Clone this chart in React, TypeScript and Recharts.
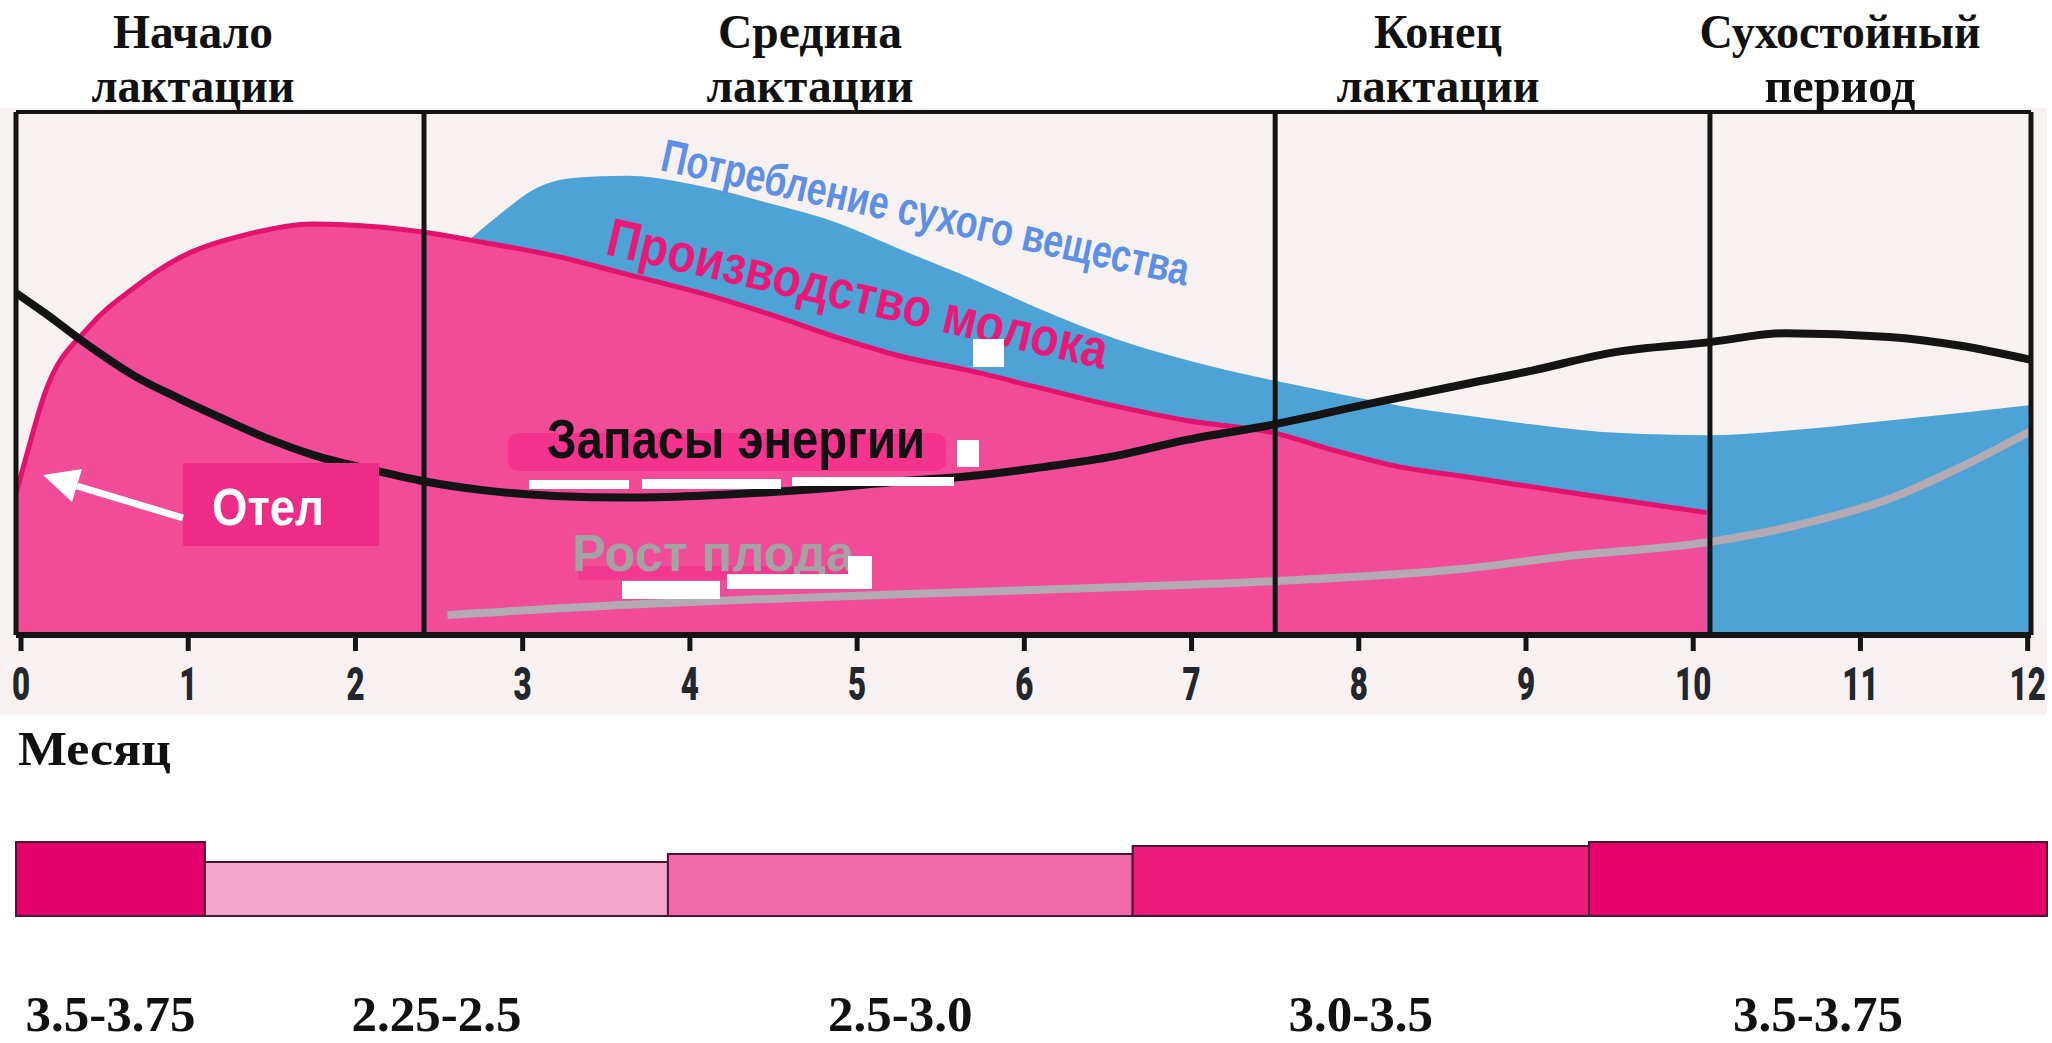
import React from 'react';
import { ComposedChart, Area, Line, XAxis, YAxis, ReferenceLine, ReferenceArea } from 'recharts';

// ---------- data ----------
const monthTicks = [0, 1, 2, 3, 4, 5, 6, 7, 8, 9, 10, 11, 12];
const phaseDividers = [2.41, 7.5, 10.1];
const phaseTitles = [
  ['Начало', 'лактации'],
  ['Средина', 'лактации'],
  ['Конец', 'лактации'],
  ['Сухостойный', 'период'],
];

// Производство молока
const milkMonths = [-0.03, 0.03, 0.14, 0.41, 0.68, 0.94, 1.34, 1.74, 2.14, 2.41, 2.76, 3.19, 3.62, 4.04, 4.47, 4.9, 5.26, 5.68, 6.11, 6.54, 6.97, 7.5, 7.82, 8.25, 8.61, 9.25, 10.08];
const milkValues = [27, 34, 46, 59, 66.5, 72, 76.5, 78.6, 78.0, 77.0, 75.1, 72.5, 69, 65.6, 61.4, 56.7, 53.3, 50.5, 47.1, 43.8, 41, 38.6, 35.6, 32.1, 30.4, 27.3, 23.4];

// Потребление сухого вещества
const dmiMonths = [2.66, 2.87, 3.08, 3.3, 3.62, 4.04, 4.47, 4.9, 5.26, 5.68, 6.11, 6.54, 6.97, 7.5, 7.82, 8.25, 8.61, 9.03, 9.57, 10.08, 10.53, 11.17, 12.02];
const dmiValues = [75, 80.6, 85.4, 87.4, 87.8, 86, 82.6, 78.6, 73.7, 68.2, 62.1, 56.7, 52.6, 48.6, 46.5, 43.8, 42.1, 40.3, 38.6, 38.2, 39, 41, 44];

// Запасы энергии
const energyMonths = [-0.03, 0.14, 0.41, 0.68, 0.94, 1.21, 1.48, 1.74, 2.15, 2.41, 2.76, 3.19, 3.62, 4.04, 4.47, 4.9, 5.26, 5.68, 6.11, 6.54, 6.97, 7.5, 8.03, 8.61, 9.03, 9.5, 10.1, 10.55, 11.17, 11.6, 12.02];
const energyValues = [65.4, 61.6, 55.2, 49.5, 45.3, 41.3, 37.5, 34.5, 31.2, 29.4, 27.7, 26.6, 26.3, 26.6, 27.3, 28.3, 29.4, 30.4, 32.1, 34.2, 37.3, 40.3, 44, 47.8, 50.5, 53.9, 56, 57.7, 57, 55.3, 52.6];

// Рост плода
const fetalMonths = [2.55, 3.62, 4.47, 5.26, 6.33, 7.5, 8.61, 9.25, 10.1, 10.74, 11.17, 11.6, 12.02];
const fetalValues = [3.8, 5.8, 6.9, 7.8, 8.9, 10.3, 12.6, 15.1, 17.8, 21.9, 26, 32.1, 39];

// Body condition band
const bandLabels = ['3.5-3.75', '2.25-2.5', '2.5-3.0', '3.0-3.5', '3.5-3.75'];
const bandHigh = [3.75, 2.5, 3.0, 3.5, 3.75];
const bandStart = [-0.03, 1.1, 3.87, 6.65, 9.38];
const bandEnd = [1.1, 3.87, 6.65, 9.38, 12.12];
const bandColors = ['#e4016b', '#f2a4cb', '#f06aab', '#eb1a7b', '#e7016a'];
const BAND_FLOOR = -0.9;

// ---------- table built from arrays ----------
type Row = { m: number; [k: string]: number | undefined };
function buildRows(): Row[] {
  const map = new Map<number, Row>();
  const add = (ms: number[], vs: number[], key: string) =>
    ms.forEach((m, i) => {
      const r = map.get(m) ?? { m };
      r[key] = vs[i];
      map.set(m, r);
    });
  add(milkMonths, milkValues, 'milk');
  add(dmiMonths, dmiValues, 'dmi');
  add(energyMonths, energyValues, 'energy');
  add(fetalMonths, fetalValues, 'fetal');
  return Array.from(map.values()).sort((a, b) => a.m - b.m);
}
const rows = buildRows();
const bandCenters = bandStart.map((s, i) => (s + bandEnd[i]) / 2);
const bandRows = bandLabels.map((label, i) => ({ center: bandCenters[i], high: bandHigh[i], label }));

const SERIF = '"Liberation Serif", "Times New Roman", serif';
const SANS = '"Liberation Sans", Arial, sans-serif';

function MonthTick(props: any) {
  const { x, y, payload } = props;
  return (
    <text
      x={0}
      y={0}
      transform={`translate(${x},${y + 49}) scale(0.68,1)`}
      textAnchor="middle"
      fontFamily='Roboto, "DejaVu Sans", sans-serif'
      fontWeight={900}
      fontSize={46}
      fill="#23262b"
    >
      {payload.value}
    </text>
  );
}

function BandTick(props: any) {
  const { x, y, index } = props;
  return (
    <text x={x} y={y + 115} textAnchor="middle" fontFamily={SERIF} fontWeight={700} fontSize={51} fill="#111">
      {bandLabels[index]}
    </text>
  );
}

const headerPos = [
  { cx: 193, w1: 160, w2: 203 },
  { cx: 810, w1: 184, w2: 207 },
  { cx: 1438, w1: 128, w2: 203 },
  { cx: 1840, w1: 281, w2: 151 },
];

export default function App() {
  return (
    <div style={{ position: 'absolute', left: 0, top: 0, width: 2052, height: 1043, background: '#fff', overflow: 'hidden' }}>
      <div style={{ position: 'absolute', left: 0, top: 108, width: 2047, height: 607, background: '#f8f1f1' }} />

      <div style={{ position: 'absolute', left: 0, top: 0 }}>
        <ComposedChart width={2052} height={720} data={rows} margin={{ top: 112, right: 21, bottom: 25, left: 16 }}>
          <XAxis
            type="number"
            dataKey="m"
            domain={[-0.03, 12.02]}
            ticks={monthTicks}
            interval={0}
            allowDataOverflow
            height={60}
            tickSize={16}
            tickMargin={0}
            axisLine={{ stroke: '#141414', strokeWidth: 6 }}
            tickLine={{ stroke: '#141414', strokeWidth: 5 }}
            tick={<MonthTick />}
          />
          <YAxis type="number" domain={[0, 100]} hide width={0} allowDataOverflow />
          <Area type="monotone" dataKey="dmi" fill="#4ea3d6" fillOpacity={1} stroke="none" connectNulls isAnimationActive={false} />
          <Area type="monotone" dataKey="milk" fill="#f24b97" fillOpacity={1} stroke="#e3126d" strokeWidth={5} connectNulls isAnimationActive={false} />
          <Line type="monotone" dataKey="fetal" stroke="#b3abb1" strokeWidth={8} dot={false} activeDot={false} connectNulls isAnimationActive={false} />
          <Line type="monotone" dataKey="energy" stroke="#141414" strokeWidth={8} dot={false} activeDot={false} connectNulls isAnimationActive={false} />
          {phaseDividers.map((d) => (
            <ReferenceLine key={d} x={d} stroke="#141414" strokeWidth={5} zIndex={1000} />
          ))}
          <ReferenceLine x={-0.03} stroke="#141414" strokeWidth={5} zIndex={1000} />
          <ReferenceLine x={12.02} stroke="#141414" strokeWidth={5} zIndex={1000} />
          <ReferenceLine y={100} stroke="#141414" strokeWidth={4} zIndex={1000} />
          <ReferenceLine y={0} stroke="#141414" strokeWidth={6} zIndex={1000} />
        </ComposedChart>
      </div>

      <div style={{ position: 'absolute', left: 0, top: 820 }}>
        <ComposedChart width={2052} height={223} data={bandRows} margin={{ top: 18, right: 5, bottom: 17, left: 16 }}>
          <XAxis
            type="number"
            dataKey="center"
            domain={[-0.03, 12.12]}
            ticks={bandCenters}
            interval={0}
            height={110}
            axisLine={false}
            tickLine={false}
            tickSize={0}
            tickMargin={0}
            tick={<BandTick />}
          />
          <YAxis type="number" domain={[BAND_FLOOR, 4.0]} hide width={0} allowDataOverflow />
          {bandLabels.map((l, i) => (
            <ReferenceArea
              key={i}
              x1={bandStart[i]}
              x2={bandEnd[i]}
              y1={BAND_FLOOR}
              y2={bandHigh[i]}
              fill={bandColors[i]}
              fillOpacity={1}
              stroke="#4b1733"
              strokeWidth={2}
            />
          ))}
          <Line dataKey="high" stroke="none" dot={false} activeDot={false} isAnimationActive={false} legendType="none" />
        </ComposedChart>
      </div>

      <svg width={2052} height={1043} style={{ position: 'absolute', left: 0, top: 0, pointerEvents: 'none' }}>
        {/* phase headers */}
        {phaseTitles.map((t, i) => (
          <g key={i} fontFamily={SERIF} fontWeight={700} fontSize={48} fill="#111" textAnchor="middle">
            <text x={headerPos[i].cx} y={48} textLength={headerPos[i].w1} lengthAdjust="spacingAndGlyphs">{t[0]}</text>
            <text x={headerPos[i].cx} y={102} textLength={headerPos[i].w2} lengthAdjust="spacingAndGlyphs">{t[1]}</text>
          </g>
        ))}
        <text x={18} y={765} fontFamily={SERIF} fontWeight={700} fontSize={49} fill="#111" textLength={153} lengthAdjust="spacingAndGlyphs">Месяц</text>

        {/* curve labels */}
        <text x={659} y={170} transform="rotate(12.4 659 170)" fontFamily={SANS} fontWeight={700} fontSize={46} fill="#5d8fe6" textLength={539} lengthAdjust="spacingAndGlyphs">Потребление сухого вещества</text>
        <text x={604} y={254} transform="rotate(13 604 254)" fontFamily={SANS} fontWeight={700} fontSize={54} fill="#ec1877" textLength={512} lengthAdjust="spacingAndGlyphs">Производство молока</text>
        <rect x={973} y={339} width={31} height={28} fill="#fff" />

        <rect x={508} y={433} width={438} height={38} rx={10} fill="#f5338e" />
        <text x={547} y={458} fontFamily={SANS} fontWeight={700} fontSize={56} fill="#111" textLength={378} lengthAdjust="spacingAndGlyphs">Запасы энергии</text>
        <rect x={957} y={440} width={22} height={27} fill="#fff" />
        <rect x={529} y={480} width={100} height={9} fill="#fff" />
        <rect x={642} y={479} width={139} height={10} fill="#fff" />
        <rect x={792} y={477} width={162} height={9} fill="#fff" />

        <rect x={578} y={566} width={270} height={14} fill="#f3388f" />
        <text x={572} y={571} fontFamily={SANS} fontWeight={700} fontSize={52} fill="#a3a3a3" textLength={282} lengthAdjust="spacingAndGlyphs">Рост плода</text>
        <rect x={622} y={581} width={98} height={18} fill="#fff" />
        <rect x={727} y={574} width={145} height={15} fill="#fff" />
        <rect x={848} y={556} width={24} height={18} fill="#fff" />

        <rect x={183} y={463} width={196} height={83} fill="#ee2b86" />
        <text x={212} y={525} fontFamily={SANS} fontWeight={700} fontSize={52} fill="#fff" textLength={112} lengthAdjust="spacingAndGlyphs">Отел</text>
        <line x1={183} y1={518} x2={77} y2={486} stroke="#fff" strokeWidth={7} />
        <polygon points="43,475 82,469 72,502" fill="#fff" />
      </svg>
    </div>
  );
}
